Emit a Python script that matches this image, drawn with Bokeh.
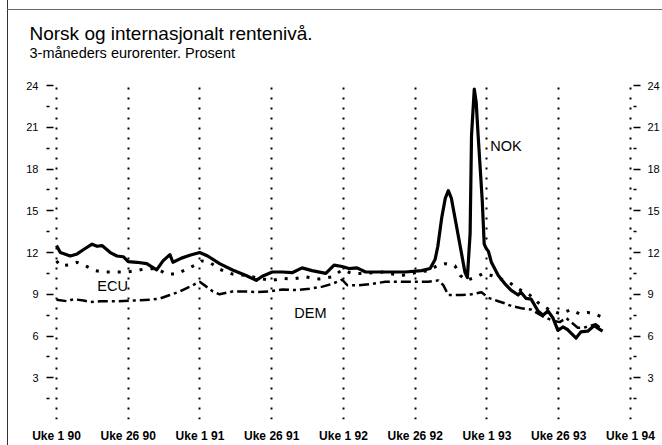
from bokeh.plotting import figure
from bokeh.models import FixedTicker, LinearAxis, Range1d, Title, Label
from bokeh.embed import file_html
from bokeh.resources import INLINE

# ---- data (weeks since Uke 1 1990, percent) ----
tick_weeks = [0, 26, 52, 78, 104, 130, 156, 182, 208]
tick_labels = ["Uke 1 90", "Uke 26 90", "Uke 1 91", "Uke 26 91", "Uke 1 92",
               "Uke 26 92", "Uke 1 93", "Uke 26 93", "Uke 1 94"]
y_major = [3, 6, 9, 12, 15, 18, 21, 24]
y_minor = [1.5, 4.5, 7.5, 10.5, 13.5, 16.5, 19.5, 22.5]

nok_week = [0, 1.4, 5.0, 7.5, 9.7, 12.9, 14.7, 16.5, 19.5, 21.9, 24.2, 26, 29.1, 32.7,
            36.3, 38.6, 41.1, 42.2, 45.3, 48.3, 51.9, 54.8, 59.1, 63.8, 68.7, 72.4,
            74.6, 78.2, 81.8, 85.4, 89.0, 92.6, 97.6, 100.6, 103.5, 106.0, 108.9,
            112.0, 117.9, 124.0, 126.4, 132.3, 135.4, 137.2, 138.2, 139.6, 140.9,
            142.0, 143.1, 144.4, 146.3, 148.0, 148.9, 149.9, 150.4, 151.4, 152.1,
            152.8, 154.3, 155.0, 155.7, 156.5, 157.6, 160.1, 162.5, 164.7, 167.3,
            168.3, 170.2, 172.0, 174.5, 176.3, 178.1, 179.9, 181.7, 183.5, 185.3,
            188.3, 190.0, 192.5, 194.9, 196.7, 197.9]
nok_rate = [12.5, 12.0, 11.75, 11.9, 12.2, 12.6, 12.45, 12.5, 12.0, 11.75, 11.7, 11.35,
            11.3, 11.2, 10.75, 11.4, 11.85, 11.3, 11.6, 11.8, 12.0, 11.75, 11.2, 10.75,
            10.35, 10.0, 10.3, 10.6, 10.6, 10.55, 10.9, 10.7, 10.5, 11.1, 11.0, 10.85,
            10.9, 10.6, 10.6, 10.6, 10.6, 10.7, 10.85, 11.5, 12.45, 14.5, 15.9, 16.45,
            15.9, 14.5, 12.45, 10.6, 10.2, 13.4, 20.4, 23.75, 22.8, 20.4, 15.7, 12.6,
            12.3, 12.1, 11.3, 10.35, 9.75, 9.3, 8.95, 9.15, 8.7, 8.65, 7.8, 7.5, 7.8,
            7.3, 6.4, 6.65, 6.45, 5.85, 6.3, 6.35, 6.75, 6.5, 6.35]

ecu_week = [0, 1.4, 4.3, 7.5, 10.5, 14.1, 16.9, 20.5, 25.5, 29.1, 31.4, 36.3, 39.9,
            43.5, 47.1, 50.7, 52.5, 55.5, 59.1, 63.8, 68.7, 74.6, 78.2, 81.8, 85.4,
            90.4, 95.2, 99.9, 103.5, 107.1, 110.7, 117.9, 125.1, 131.2, 134.8, 138.4,
            140.8, 144.4, 146.3, 148.6, 152.2, 154.7, 157.6, 163.7, 167.3, 171.5,
            174.5, 179.3, 182.8, 186.4, 189.5, 192.5, 195.5, 197.2]
ecu_rate = [11.4, 11.05, 11.1, 11.3, 11.05, 10.7, 10.6, 10.6, 10.6, 10.7, 10.8, 10.85,
            10.45, 10.45, 10.8, 11.15, 11.4, 11.3, 10.8, 10.45, 10.35, 10.1, 10.0,
            10.15, 10.1, 10.25, 10.1, 10.25, 10.75, 10.5, 10.5, 10.6, 10.35, 10.6,
            10.7, 11.1, 11.2, 11.05, 10.35, 10.0, 10.25, 10.5, 10.35, 9.9, 9.4, 8.95,
            8.4, 7.8, 7.6, 7.9, 7.6, 7.7, 7.55, 7.4]

dem_week = [0, 3.9, 6.2, 9.8, 12.3, 15.9, 21.9, 27.9, 33.9, 37.5, 41.1, 44.7, 48.3,
            51.9, 54.3, 56.7, 59.1, 63.8, 69.9, 72.4, 77.1, 81.9, 86.8, 91.6, 96.4,
            99.9, 103.5, 105.4, 109.6, 114.3, 119.2, 124.0, 130.0, 134.8, 138.4,
            140.2, 142.0, 146.8, 150.4, 154.0, 156.5, 160.1, 162.5, 164.9, 168.5,
            172.0, 176.3, 179.9, 182.4, 184.7, 188.9, 191.2, 195.4, 197.9]
dem_rate = [8.6, 8.5, 8.65, 8.55, 8.45, 8.5, 8.5, 8.55, 8.6, 8.7, 8.95, 9.2, 9.55, 9.9,
            9.55, 9.2, 9.0, 9.2, 9.2, 9.15, 9.2, 9.35, 9.3, 9.4, 9.55, 9.75, 10.05,
            9.65, 9.65, 9.75, 9.9, 9.9, 9.9, 9.9, 10.0, 9.65, 8.95, 8.95, 9.0, 9.15,
            8.75, 8.5, 8.35, 8.15, 8.0, 7.9, 7.4, 7.1, 7.0, 7.3, 6.6, 6.6, 6.85, 6.45]

title_main = "Norsk og internasjonalt rentenivå."
title_sub = "3-måneders eurorenter. Prosent"

FONT = "Liberation Sans"

page_lines = ("linear-gradient(#666666, #666666) 7px 9px / 655px 1px no-repeat, "
              "linear-gradient(#333333, #333333) 7px 0px / 1px 445px no-repeat, "
              "#ffffff")

p = figure(width=662, height=445, output_backend="svg", toolbar_location=None,
           x_range=Range1d(-1.08, 209.1), y_range=Range1d(0, 24.15),
           min_border_left=53, min_border_right=26, min_border_top=83,
           min_border_bottom=17, outline_line_color=None,
           border_fill_color=None, background_fill_color="white",
           styles={"background": page_lines})

p.title.text = title_main
p.title.text_font = FONT
p.title.text_font_size = "19px"
p.title.text_font_style = "normal"
p.title.text_color = "black"
p.title.align = "left"
p.title.offset = -24
p.title.standoff = -49
p.add_layout(Title(text=title_sub, text_font=FONT, text_font_size="14.5px",
                   text_font_style="normal", text_color="black", align="left",
                   offset=-24, standoff=46),
             "above")

# x axis
xa = p.xaxis[0]
xa.ticker = FixedTicker(ticks=tick_weeks)
xa.major_label_overrides = {w: t for w, t in zip(tick_weeks, tick_labels)}
xa.axis_line_color = None
xa.major_tick_line_color = None
xa.minor_tick_line_color = None
xa.major_label_standoff = 3
xa.major_label_text_font = FONT
xa.major_label_text_font_style = "bold"
xa.major_label_text_font_size = "12px"
xa.major_label_text_color = "black"

# left y axis
ya = p.yaxis[0]
ya.ticker = FixedTicker(ticks=y_major, minor_ticks=y_minor)
ya.axis_line_color = None
ya.major_tick_out = 7
ya.major_tick_in = 0
ya.minor_tick_out = 7
ya.minor_tick_in = -4
ya.major_tick_line_width = 1.5
ya.minor_tick_line_width = 1.5
ya.major_tick_line_color = "black"
ya.minor_tick_line_color = "black"
ya.major_label_standoff = 8
ya.major_label_text_font = FONT
ya.major_label_text_font_size = "11px"
ya.major_label_text_color = "black"

# right y axis
ra = LinearAxis(ticker=FixedTicker(ticks=y_major, minor_ticks=y_minor))
ra.axis_line_color = None
ra.major_tick_out = 7
ra.major_tick_in = 0
ra.minor_tick_out = 3
ra.minor_tick_in = 0
ra.major_tick_line_width = 1.5
ra.minor_tick_line_width = 1.5
ra.major_tick_line_color = "black"
ra.minor_tick_line_color = "black"
ra.major_label_standoff = 7
ra.major_label_text_font = FONT
ra.major_label_text_font_size = "11px"
ra.major_label_text_color = "black"
p.add_layout(ra, "right")

# grid
p.ygrid.visible = False
p.xgrid.ticker = FixedTicker(ticks=tick_weeks)
p.xgrid.grid_line_color = "black"
p.xgrid.grid_line_width = 2
p.xgrid.grid_line_dash = "2 8"

# series
p.line(nok_week, nok_rate, line_color="black", line_width=3.2, line_join="round")
p.line(ecu_week, ecu_rate, line_color="black", line_width=3, line_dash="3 8")
p.line(dem_week, dem_rate, line_color="black", line_width=2.5, line_dash="10 4 3 4")

for txt, xx, yy in [("ECU", 14.8, 9.58), ("DEM", 86.2, 7.65), ("NOK", 157.2, 19.65)]:
    p.add_layout(Label(x=xx, y=yy, text=txt, text_font=FONT, text_font_size="14.5px",
                       text_baseline="middle", text_align="left", text_color="black"))

open("out.html", "w").write(file_html(p, INLINE))
